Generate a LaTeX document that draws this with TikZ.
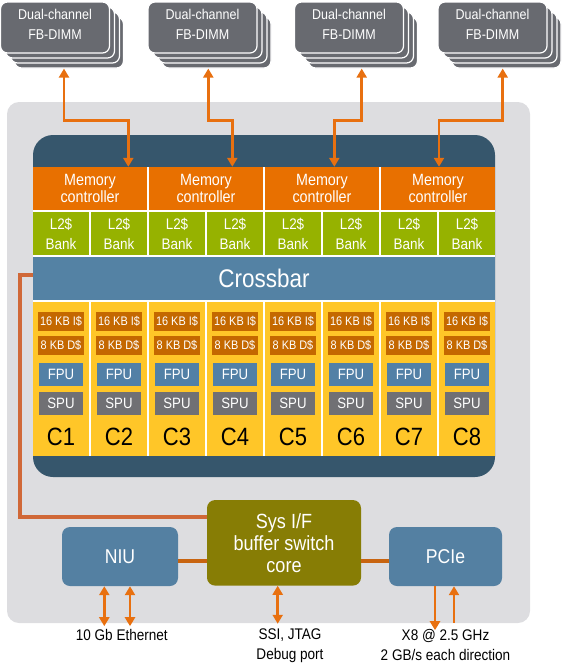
\documentclass[tikz,border=0pt]{standalone}
\usepackage{fontspec}
\setmainfont{Liberation Sans}[FakeStretch=0.88]
\usetikzlibrary{arrows.meta}
\definecolor{chipgray}{RGB}{221,221,224}
\definecolor{diebg}{RGB}{54,86,108}
\definecolor{dimmgray}{RGB}{104,106,112}
\definecolor{mcorange}{RGB}{232,112,0}
\definecolor{l2green}{RGB}{150,178,0}
\definecolor{xbarblue}{RGB}{84,130,164}
\definecolor{coreyellow}{RGB}{255,198,40}
\definecolor{cachebrown}{RGB}{196,104,0}
\definecolor{fpublue}{RGB}{82,128,166}
\definecolor{spugray}{RGB}{112,112,116}
\definecolor{sysolive}{RGB}{135,125,5}
\definecolor{ioblue}{RGB}{84,128,162}
\definecolor{arroworange}{RGB}{232,112,16}
\definecolor{wireorange}{RGB}{208,104,56}
\definecolor{busorange}{RGB}{200,100,16}

% stack of dimm cards: name, x, y of the front card
\newcommand{\dimmstack}[3]{
 \draw (#2+14,#3+15) node[dimmbox] (#1c) {};
 \draw (#2+10,#3+10) node[dimmbox] (#1b) {};
 \draw (#2+5,#3+5)   node[dimmbox] (#1a) {};
 \draw (#2,#3)       node[dimmbox,text depth=6pt] (#1) {Dual-channel\\FB-DIMM};
}
% one core column: name, x, label
\newcommand{\cpucore}[3]{
 \draw (#2,379)   node[corecol]  (#1)  {};
 \draw (#2,321.2) node[cachebox] (#1i) {16 KB I\$};
 \draw (#2,345.5) node[cachebox] (#1d) {8 KB D\$};
 \draw (#2,374.7) node[unitbox,fill=fpublue] (#1f) {FPU};
 \draw (#2,403.7) node[unitbox,fill=spugray] (#1s) {SPU};
 \draw (#2,437)   node[corelbl]  (#1l) {#3};
}

\begin{document}
\begin{tikzpicture}[x=1pt,y=-1pt,
  every node/.style={inner sep=0pt,text=white},
  dimmbox/.style={draw=white,line width=1.2pt,fill=dimmgray,rounded corners=7pt,
                  minimum width=109pt,minimum height=51pt,align=center,
                  font=\fontsize{14.2}{19.5}\selectfont},
  mcbox/.style={fill=mcorange,minimum width=114pt,minimum height=43pt,align=center,
                font=\fontsize{16.3}{16.7}\selectfont},
  l2box/.style={fill=l2green,minimum width=56pt,minimum height=43pt,align=center,
                font=\fontsize{15.3}{20}\selectfont},
  xbarbox/.style={fill=xbarblue,minimum width=462pt,minimum height=43pt,
                  font=\fontsize{25.5}{27}\selectfont},
  corecol/.style={fill=coreyellow,minimum width=56pt,minimum height=154pt},
  cachebox/.style={fill=cachebrown,minimum width=46.7pt,minimum height=19pt,
                   font=\fontsize{12.4}{14}\selectfont},
  unitbox/.style={minimum width=43.3pt,minimum height=22.7pt,
                  font=\fontsize{15}{17}\selectfont},
  corelbl/.style={text=black,font=\fontsize{25}{27}\selectfont},
  sysbox/.style={fill=sysolive,rounded corners=8pt,minimum width=154pt,
                 minimum height=85.5pt,align=center,font=\fontsize{20.5}{22}\selectfont},
  iobox/.style={fill=ioblue,rounded corners=8pt,minimum height=59pt,
                font=\fontsize{20}{22}\selectfont},
  lbl/.style={text=black,align=center,font=\fontsize{15.4}{20}\selectfont},
  biarrow/.style={{Triangle[length=9pt,width=10pt]}-{Triangle[length=9pt,width=10pt]},
                  line width=2.7pt,draw=arroworange},
  wire/.style={line width=3.8pt,draw=wireorange},
  bus/.style={line width=4pt,draw=busorange}]

 \useasboundingbox (0,0) rectangle (563,664);

 % chip and die
 \fill[chipgray,rounded corners=12pt] (7,102) rectangle (530,623);
 \fill[diebg,rounded corners=20pt]    (33,135) rectangle (495,477);
 \fill[white] (33,167) rectangle (495,456);

 % memory
 \dimmstack{dimm1}{55}{27.5}
 \dimmstack{dimm2}{202.5}{27.5}
 \dimmstack{dimm3}{349}{27.5}
 \dimmstack{dimm4}{492.5}{27.5}

 \draw (90,188.5)  node[mcbox] (mc1) {Memory\\controller};
 \draw (206,188.5) node[mcbox] (mc2) {Memory\\controller};
 \draw (322,188.5) node[mcbox] (mc3) {Memory\\controller};
 \draw (438,188.5) node[mcbox] (mc4) {Memory\\controller};

 \draw (61,233.5)  node[l2box] (l2a) {L2\$\\Bank};
 \draw (119,233.5) node[l2box] (l2b) {L2\$\\Bank};
 \draw (177,233.5) node[l2box] (l2c) {L2\$\\Bank};
 \draw (235,233.5) node[l2box] (l2d) {L2\$\\Bank};
 \draw (293,233.5) node[l2box] (l2e) {L2\$\\Bank};
 \draw (351,233.5) node[l2box] (l2f) {L2\$\\Bank};
 \draw (409,233.5) node[l2box] (l2g) {L2\$\\Bank};
 \draw (467,233.5) node[l2box] (l2h) {L2\$\\Bank};

 \draw (264,278.5) node[xbarbox] (xbar) {Crossbar};

 % cores
 \cpucore{core1}{61}{C1}
 \cpucore{core2}{119}{C2}
 \cpucore{core3}{177}{C3}
 \cpucore{core4}{235}{C4}
 \cpucore{core5}{293}{C5}
 \cpucore{core6}{351}{C6}
 \cpucore{core7}{409}{C7}
 \cpucore{core8}{467}{C8}

 % i/o blocks
 \draw (284,542.8)   node[sysbox] (sysif) {Sys I/F\\buffer switch\\core};
 \draw (120,556.5)   node[iobox,minimum width=116pt] (niu)  {NIU};
 \draw (445.5,556.5) node[iobox,minimum width=113pt] (pcie) {PCIe};

 \draw[biarrow] ([xshift=-5pt]dimm1c.south)   -- ++(0,52) -| ([xshift=38.3pt]mc1.north);
 \draw[biarrow] ([xshift=-8.2pt]dimm2c.south) -- ++(0,52) -| ([xshift=26.3pt]mc2.north);
 \draw[biarrow] ([xshift=-1.3pt]dimm3c.south) -- ++(0,52) -| ([xshift=12.3pt]mc3.north);
 \draw[biarrow] ([xshift=-3.8pt]dimm4c.south) -- ++(0,52) -| ([xshift=1pt]mc4.north);

 \draw[wire] ([yshift=3.5pt]xbar.west) -- ++(-12.5,0) |- ([yshift=25.8pt]sysif.west);
 \draw[bus] ([yshift=-4.5pt]niu.east) -- ++(29,0);
 \draw[bus] ([yshift=-4.2pt]pcie.west) -- ++(-28,0);

 \draw[biarrow] ([xshift=-15.7pt]niu.south) -- ++(0,40);
 \draw[biarrow] ([xshift=10pt]niu.south)    -- ++(0,40);
 \draw[biarrow] ([xshift=-6.3pt]sysif.south) -- ++(0,38);
 \draw[biarrow,{Triangle[length=9pt,width=10pt]}-] ([xshift=8.5pt]pcie.south) -- ++(0,37);
 \draw[biarrow,-{Triangle[length=9pt,width=10pt]}] ([xshift=-10.5pt]pcie.south) -- ++(0,44);

 \draw (121.8,629) node[lbl,anchor=north] (ethlbl)  {10 Gb Ethernet};
 \draw (290,629)   node[lbl,anchor=north] (dbglbl)  {SSI, JTAG\\Debug port};
 \draw (445.5,629) node[lbl,anchor=north] (pcielbl) {X8 @ 2.5 GHz\\2 GB/s each direction};

\end{tikzpicture}
\end{document}
